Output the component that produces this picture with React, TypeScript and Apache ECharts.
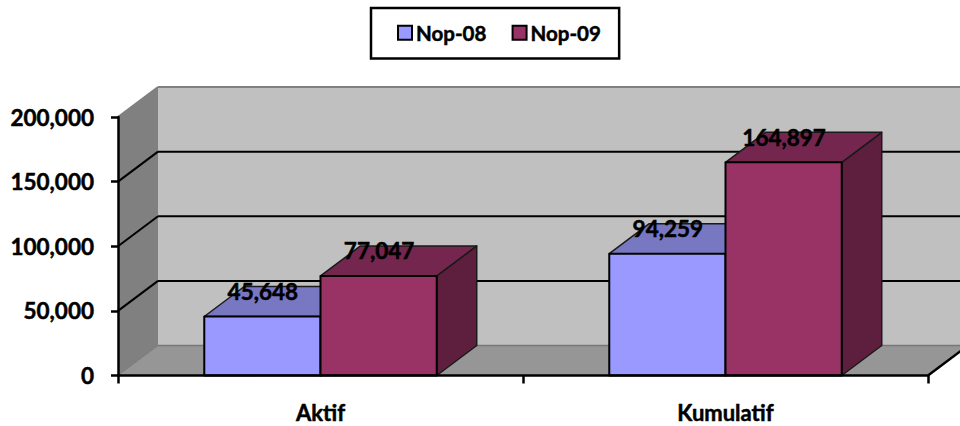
import React, { useEffect, useRef } from "react";
import * as echarts from "echarts";

const categories = ["Aktif", "Kumulatif"];
const nop08 = [45648, 94259];
const nop09 = [77047, 164897];
const yTicks = [0, 50000, 100000, 150000, 200000];
const FONT = "Lato, 'Open Sans', sans-serif";
const DX = 40;
const DY = -30;
const BAR_RATIO = 0.287;

const poly = (points: number[][], fill: string, stroke: string, lineWidth: number) => ({
  type: "polygon",
  shape: { points },
  style: { fill, stroke, lineWidth, lineJoin: "round" },
});

function renderWall(params: any, api: any) {
  const v = api.value(1);
  const cs = params.coordSys;
  const x0 = cs.x;
  const x1 = cs.x + cs.width;
  const y = api.coord([0, v])[1];
  const children: any[] = [];
  if (v === yTicks[0]) {
    const top = cs.y;
    children.push(poly([[x0 + DX, top + DY], [x1 + DX, top + DY], [x1 + DX, y + DY], [x0 + DX, y + DY]], "#c0c0c0", "none", 0));
    children.push(poly([[x0, top], [x0 + DX, top + DY], [x0 + DX, y + DY], [x0, y]], "#808080", "none", 0));
    children.push(poly([[x0, y], [x0 + DX, y + DY], [x1 + DX, y + DY], [x1, y]], "#969696", "none", 0));
    children.push({ type: "line", shape: { x1: x1, y1: y, x2: x1 + DX, y2: y + DY }, style: { stroke: "#000", lineWidth: 2.5 } });
    children.push({ type: "line", shape: { x1: x0 + DX, y1: y + DY, x2: x1 + DX, y2: y + DY }, style: { stroke: "#777", lineWidth: 1.5 } });
    children.push({ type: "line", shape: { x1: x0, y1: y, x2: x0 + DX, y2: y + DY }, style: { stroke: "#777", lineWidth: 1 } });
  } else {
    const isTop = v === yTicks[yTicks.length - 1];
    const stroke = isTop ? "#808080" : "#000";
    children.push({ type: "line", shape: { x1: x0, y1: y, x2: x0 + DX, y2: y + DY }, style: { stroke, lineWidth: 2 } });
    children.push({ type: "line", shape: { x1: x0 + DX, y1: y + DY, x2: x1 + DX, y2: y + DY }, style: { stroke, lineWidth: 2 } });
  }
  return { type: "group", children };
}

function makeBar(side: -1 | 1, front: string, top: string, right: string) {
  return (_params: any, api: any) => {
    const cat = api.value(0);
    const val = api.value(1);
    const band = api.size([1, 0])[0];
    const w = band * BAR_RATIO;
    const c = api.coord([cat, val]);
    const base = api.coord([cat, 0])[1];
    const xL = side < 0 ? c[0] - w : c[0];
    const xR = xL + w;
    const yT = c[1];
    const edge = "#1a1a1a";
    return {
      type: "group",
      children: [
        poly([[xR, yT], [xR + DX, yT + DY], [xR + DX, base + DY], [xR, base]], right, edge, 1.5),
        poly([[xL, yT], [xL + DX, yT + DY], [xR + DX, yT + DY], [xR, yT]], top, edge, 1.5),
        poly([[xL, yT], [xR, yT], [xR, base], [xL, base]], front, "#000", 2),
        {
          type: "text",
          style: {
            x: (xL + xR) / 2 + 0.5,
            y: yT - 25,
            text: val.toLocaleString("en-US"),
            fill: "#000",
            stroke: "#000",
            lineWidth: 0.5,
            font: `bold 22.5px ${FONT}`,
            align: "center",
            verticalAlign: "middle",
          },
        },
      ],
    };
  };
}

export default function App() {
  const ref = useRef<HTMLDivElement>(null);
  useEffect(() => {
    const chart = echarts.init(ref.current!, undefined, { renderer: "svg" });
    const labelStyle = {
      color: "#000",
      fontWeight: "bold" as const,
      fontFamily: FONT,
      fontSize: 22.5,
      textBorderColor: "#000",
      textBorderWidth: 0.5,
    };
    chart.setOption({
      animation: false,
      backgroundColor: "#fff",
      grid: { left: 118, right: 32, top: 117, bottom: 50.5 },
      legend: {
        left: 371,
        top: 8,
        data: [
          { name: "Nop-08", icon: "rect" },
          { name: "Nop-09", icon: "rect" },
        ],
        selectedMode: false,
        backgroundColor: "#fff",
        borderColor: "#000",
        borderWidth: 2.5,
        padding: [14, 18, 15, 26],
        itemWidth: 14,
        itemHeight: 14,
        itemGap: 25,
        textStyle: { ...labelStyle, fontSize: 20.5, padding: [0, 0, 0, -1] },
        itemStyle: { borderColor: "#000", borderWidth: 2 },
      },
      xAxis: {
        type: "category",
        data: categories,
        z: 5,
        axisLine: { lineStyle: { color: "#000", width: 2.5 } },
        axisTick: { show: true, length: 8, lineStyle: { color: "#000", width: 2.5 } },
        axisLabel: { ...labelStyle, fontSize: 22, lineHeight: 18, margin: 28 },
        splitLine: { show: false },
      },
      yAxis: {
        type: "value",
        min: 0,
        max: 200000,
        interval: 50000,
        z: 5,
        axisLine: { show: true, lineStyle: { color: "#000", width: 2.5 } },
        axisTick: { show: true, length: 7, lineStyle: { color: "#000", width: 2.5 } },
        axisLabel: { ...labelStyle, margin: 24, formatter: (v: number) => v.toLocaleString("en-US") },
        splitLine: { show: false },
      },
      series: [
        {
          type: "custom",
          name: "walls",
          z: 1,
          silent: true,
          renderItem: renderWall,
          encode: { x: 0, y: 1 },
          data: yTicks.map((v) => [0, v]),
        },
        {
          type: "custom",
          name: "Nop-08",
          z: 2,
          itemStyle: { color: "#9999ff" },
          renderItem: makeBar(-1, "#9999ff", "#7777c2", "#5c5c99"),
          encode: { x: 0, y: 1 },
          data: nop08.map((v, i) => [i, v]),
        },
        {
          type: "custom",
          name: "Nop-09",
          z: 3,
          itemStyle: { color: "#993366" },
          renderItem: makeBar(1, "#993366", "#74264e", "#5e1f3f"),
          encode: { x: 0, y: 1 },
          data: nop09.map((v, i) => [i, v]),
        },
      ],
    });
    return () => chart.dispose();
  }, []);
  return <div ref={ref} style={{ position: "absolute", left: 0, top: 0, width: 960, height: 426 }} />;
}
